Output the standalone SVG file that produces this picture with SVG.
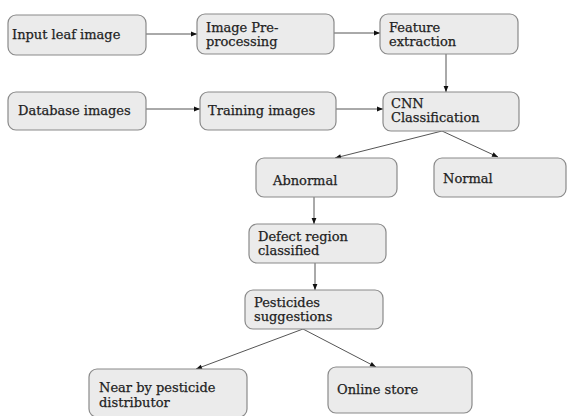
<svg xmlns="http://www.w3.org/2000/svg" width="567" height="416" viewBox="0 0 567 416">
<style>
.box{fill:#ebebeb;stroke:#8a8a8a;stroke-width:1.2}
.t{font-family:"DejaVu Serif","Liberation Serif",serif;font-size:13px;fill:#222;stroke:#222;stroke-width:0.25}
.c{stroke:#555;stroke-width:1;fill:none;marker-end:url(#ah)}
</style>
<defs>
<marker id="ah" viewBox="0 0 10 10" refX="10" refY="5" markerWidth="8" markerHeight="6" orient="auto" markerUnits="userSpaceOnUse">
<path d="M0,1 L10,5 L0,9 z" fill="#111"/>
</marker>
</defs>
<rect width="567" height="416" fill="#fff"/>
<g id="connectors">
<line class="c" x1="146" y1="34" x2="197" y2="34"/>
<line class="c" x1="334" y1="33" x2="380" y2="33"/>
<line class="c" x1="146" y1="109" x2="200" y2="109"/>
<line class="c" x1="336" y1="109" x2="383" y2="109"/>
<line class="c" x1="446" y1="54" x2="446" y2="92"/>
<line class="c" x1="442" y1="131" x2="335" y2="158"/>
<line class="c" x1="442" y1="131" x2="498" y2="157"/>
<line class="c" x1="314" y1="197" x2="314" y2="224"/>
<line class="c" x1="315" y1="263" x2="315" y2="290"/>
<line class="c" x1="303" y1="329" x2="196" y2="369"/>
<line class="c" x1="303" y1="329" x2="376" y2="367"/>
</g>
<g id="n1"><rect class="box" x="8" y="15" width="138" height="40" rx="8"/><text class="t" x="12" y="39">Input leaf image</text></g>
<g id="n2"><rect class="box" x="197" y="14" width="137" height="40" rx="8"/><text class="t" x="206" y="32">Image Pre-</text><text class="t" x="206" y="46">processing</text></g>
<g id="n3"><rect class="box" x="380" y="14" width="138" height="40" rx="8"/><text class="t" x="389" y="32">Feature</text><text class="t" x="389" y="46">extraction</text></g>
<g id="n4"><rect class="box" x="8" y="92" width="138" height="38" rx="8"/><text class="t" x="18" y="115">Database images</text></g>
<g id="n5"><rect class="box" x="200" y="92" width="136" height="38" rx="8"/><text class="t" x="208" y="115">Training images</text></g>
<g id="n6"><rect class="box" x="383" y="92" width="136" height="39" rx="8"/><text class="t" x="391" y="108">CNN</text><text class="t" x="391" y="122">Classification</text></g>
<g id="n7"><rect class="box" x="256" y="158" width="141" height="39" rx="8"/><text class="t" x="273" y="185">Abnormal</text></g>
<g id="n8"><rect class="box" x="434" y="158" width="132" height="39" rx="8"/><text class="t" x="443" y="183">Normal</text></g>
<g id="n9"><rect class="box" x="249" y="224" width="137" height="39" rx="8"/><text class="t" x="258" y="241">Defect region</text><text class="t" x="258" y="255">classified</text></g>
<g id="n10"><rect class="box" x="245" y="290" width="138" height="39" rx="8"/><text class="t" x="254" y="307">Pesticides</text><text class="t" x="254" y="321">suggestions</text></g>
<g id="n11"><rect class="box" x="89" y="369" width="158" height="48" rx="8"/><text class="t" x="99" y="392">Near by pesticide</text><text class="t" x="99" y="407">distributor</text></g>
<g id="n12"><rect class="box" x="328" y="367" width="144" height="46" rx="8"/><text class="t" x="337" y="394">Online store</text></g>
</svg>
